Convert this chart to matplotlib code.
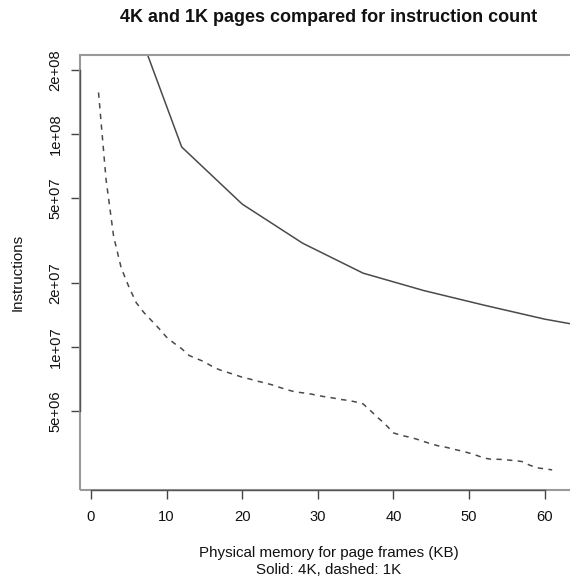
import numpy as np
import matplotlib
matplotlib.use("Agg")
import matplotlib.pyplot as plt
from matplotlib.patches import Rectangle

plt.rcParams['font.family'] = ['Liberation Sans', 'DejaVu Sans']

# 4K pages: memory (KB) and instruction count
mem_4k = [4, 12, 20, 28, 36, 44, 52, 60, 68]
instr_4k = [5.1e8, 8.7e7, 4.69e7, 3.07e7, 2.22e7, 1.84e7, 1.57e7, 1.35e7, 1.2e7]

# 1K pages
mem_1k = list(range(1, 62))
instr_1k = [1.57e8, 6.1e7, 3.3e7, 2.35e7, 1.92e7, 1.61e7, 1.45e7, 1.33e7, 1.22e7, 1.11e7,
            1.04e7, 9.8e6, 9.1e6, 8.8e6, 8.5e6, 8.1e6, 7.8e6, 7.6e6, 7.4e6, 7.2e6,
            7.06e6, 6.9e6, 6.77e6, 6.62e6, 6.44e6, 6.28e6, 6.14e6, 6.08e6, 6.01e6, 5.91e6,
            5.82e6, 5.75e6, 5.66e6, 5.6e6, 5.51e6, 5.39e6, 5.0e6, 4.63e6, 4.3e6, 3.94e6,
            3.84e6, 3.77e6, 3.69e6, 3.59e6, 3.5e6, 3.42e6, 3.37e6, 3.3e6, 3.24e6, 3.17e6,
            3.09e6, 3.0e6, 2.96e6, 2.96e6, 2.94e6, 2.92e6, 2.89e6, 2.78e6, 2.7e6, 2.67e6,
            2.64e6]

xticks = [0, 10, 20, 30, 40, 50, 60]
yticks = [5e6, 1e7, 2e7, 5e7, 1e8, 2e8]
ylabels = ["5e+06", "1e+07", "2e+07", "5e+07", "1e+08", "2e+08"]

W, H = 570, 580
fig = plt.figure(figsize=(W / 100, H / 100), dpi=100)
# plot region runs a little past the right edge of the figure
left, right, top, bottom = 80, 578, 55, 490
ax = fig.add_axes([left / W, 1 - bottom / H, (right - left) / W, (bottom - top) / H])

ax.plot(mem_4k, instr_4k, color='#4a4a4a', lw=1.1)
ax.plot(mem_1k, instr_1k, color='#4a4a4a', lw=1.1, dashes=(3.5, 3.5))

ax.set_yscale('log')
ax.set_xlim(-1.45, 64.42)
ax.set_ylim(10 ** 6.327, 10 ** 8.372)

ax.set_xticks(xticks)
ax.set_xticklabels([str(t) for t in xticks])
ax.set_yticks(yticks)
ax.set_yticklabels(ylabels, rotation=90, va='center')
ax.yaxis.set_minor_locator(matplotlib.ticker.NullLocator())

ax.tick_params(axis='both', direction='out', length=6.5, width=1, color='#444444',
               labelsize=10.6, labelcolor='#111111')
ax.tick_params(axis='x', pad=8)
ax.tick_params(axis='y', pad=6)

# axis lines span only first to last tick, box drawn lighter around it
for s in ['top', 'right']:
    ax.spines[s].set_visible(False)
ax.spines['left'].set_bounds(yticks[0], yticks[-1])
ax.spines['bottom'].set_bounds(xticks[0], xticks[-1])
for s in ['left', 'bottom']:
    ax.spines[s].set_color('#555555')
    ax.spines[s].set_linewidth(1.0)
    ax.spines[s].set_zorder(3)
ax.add_patch(Rectangle((0, 0), 1, 1, transform=ax.transAxes, fill=False,
                       ec='#999999', lw=1.5, clip_on=False, zorder=2))

cx = (left + right) / 2 / W
fig.text(cx, 1 - 17 / H, "4K and 1K pages compared for instruction count",
         ha='center', va='center', fontsize=13, fontweight='bold', color='#111111')
fig.text(cx, 1 - 553 / H, "Physical memory for page frames (KB)",
         ha='center', va='center', fontsize=10.9, color='#111111')
fig.text(cx, 1 - 570 / H, "Solid: 4K, dashed: 1K",
         ha='center', va='center', fontsize=10.9, color='#111111')
fig.text(18 / W, 1 - 272 / H, "Instructions", rotation=90,
         ha='center', va='center', fontsize=10.9, color='#111111')

fig.savefig("out.png", dpi=100)
